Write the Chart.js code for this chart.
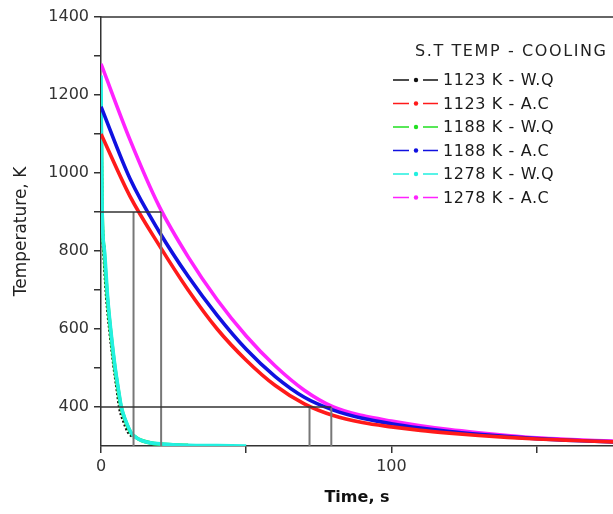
<!DOCTYPE html>
<html>
<head>
<meta charset="utf-8">
<script src="https://cdn.jsdelivr.net/npm/chart.js@4.4.1/dist/chart.umd.min.js"></script>
<style>
  html, body { margin: 0; padding: 0; background: #fff; overflow: hidden; }
</style>
</head>
<body>
<canvas id="myChart" width="613" height="514"></canvas>
<script>
// air cooled curves
const acTime = [0, 10, 20, 30, 40, 50, 60, 70, 80, 90, 100, 110, 120, 130, 140, 150, 160, 170, 180, 190, 200];
const ac1123 = [1100, 940, 815, 700, 600, 520, 455, 408, 378, 360, 349, 340, 333, 327, 322, 318, 315, 312, 310, 308, 307];
const ac1188 = [1170, 985, 850, 735, 635, 548, 478, 425, 392, 371, 357, 346, 337, 330, 324, 319, 315, 312, 310, 308, 307];
const ac1278 = [1280, 1085, 915, 785, 675, 582, 505, 443, 400, 378, 364, 352, 342, 334, 327, 321, 317, 314, 312, 310, 309];

// water quenched curves
const wq1123Time = [0, 0.3, 1, 2, 3.1, 4.5, 5.6, 6.4, 7.8, 9.5, 11.5];
const wq1123 = [1090, 900, 800, 680, 595, 505, 445, 400, 365, 335, 322];
const wq1188Time = [0, 0.4, 1.1, 2.2, 3.3, 4.7, 5.9, 6.9, 8.4, 10.2, 12, 14, 17, 20, 30];
const wq1188 = [1170, 900, 800, 680, 595, 505, 445, 400, 365, 335, 322, 314, 308, 305, 302];
const wq1278Time = [0, 0.4, 1.2, 2.3, 3.4, 4.8, 6, 7, 8.5, 10.3, 12, 14, 17, 21, 30, 40, 50];
const wq1278 = [1250, 900, 800, 680, 595, 505, 445, 400, 365, 335, 322, 314, 308, 305, 302, 301, 300];

// guide lines
const guideLevels = [900, 400];
const guideEnds = [20.7, 79.3];
const guideTimes900 = [11.2, 20.7];
const guideTimes400 = [71.8, 79.3];

const seriesLabels = ['1123 K - W.Q', '1123 K - A.C', '1188 K - W.Q', '1188 K - A.C', '1278 K - W.Q', '1278 K - A.C'];
const seriesColors = ['#111111', '#ff1a1a', '#22e022', '#1010e0', '#22f0e0', '#ff22ff'];
const legendTitle = 'S.T TEMP - COOLING';

const yMin = 300, yMax = 1400, xMin = 0, xMax = 176.3;
const fontFam = '"DejaVu Sans", Arial, sans-serif';

const pts = (xs, ys) => xs.map((x, i) => ({ x: x, y: ys[i] }));

const curve = (label, xs, ys, color, dash) => ({
    label: label,
    data: pts(xs, ys),
    showLine: true,
    borderColor: color,
    backgroundColor: color,
    borderWidth: 3.6,
    borderDash: dash || [],
    pointRadius: 0,
    cubicInterpolationMode: 'monotone',
    order: 2
});

const guide = (xs, ys, color, w) => ({
    label: '',
    data: pts(xs, ys),
    showLine: true,
    borderColor: color,
    borderWidth: w,
    pointRadius: 0,
    tension: 0,
    order: 1
});

const datasets = [
    curve(seriesLabels[1], acTime, ac1123, seriesColors[1]),
    curve(seriesLabels[3], acTime, ac1188, seriesColors[3]),
    curve(seriesLabels[5], acTime, ac1278, seriesColors[5]),
    curve(seriesLabels[4], wq1278Time, wq1278, seriesColors[4]),
    curve(seriesLabels[2], wq1188Time, wq1188, seriesColors[2]),
    curve(seriesLabels[0], wq1123Time, wq1123, seriesColors[0], [2, 2]),
    guide([0, guideEnds[0]], [guideLevels[0], guideLevels[0]], '#333', 1.5),
    guide([0, guideEnds[1]], [guideLevels[1], guideLevels[1]], '#333', 1.5),
    ...guideTimes900.map(t => guide([t, t], [yMin, guideLevels[0]], '#777', 2)),
    ...guideTimes400.map(t => guide([t, t], [yMin, guideLevels[1]], '#777', 2))
];

const frameAndLegend = {
    id: 'frameAndLegend',
    afterDraw(chart) {
        const { ctx, chartArea } = chart;
        ctx.save();
        // top frame line
        ctx.strokeStyle = '#333';
        ctx.lineWidth = 1.5;
        ctx.beginPath();
        ctx.moveTo(chartArea.left, chartArea.top);
        ctx.lineTo(chartArea.right, chartArea.top);
        ctx.stroke();

        // legend
        ctx.fillStyle = '#222';
        ctx.textBaseline = 'middle';
        ctx.font = '16px ' + fontFam;
        ctx.letterSpacing = '1.6px';
        ctx.fillText(legendTitle, 415, 52);
        ctx.letterSpacing = '0.6px';
        seriesLabels.forEach((lab, i) => {
            const y = 80 + i * 23.5;
            ctx.strokeStyle = seriesColors[i];
            ctx.fillStyle = seriesColors[i];
            ctx.lineWidth = 1.6;
            ctx.beginPath();
            ctx.moveTo(393, y); ctx.lineTo(409, y);
            ctx.moveTo(423, y); ctx.lineTo(438, y);
            ctx.stroke();
            ctx.beginPath();
            ctx.arc(416, y, 2.2, 0, Math.PI * 2);
            ctx.fill();
            ctx.fillStyle = '#1a1a1a';
            ctx.fillText(lab, 443, y + 1);
        });
        ctx.restore();
    }
};

const ctx = document.getElementById('myChart');
new Chart(ctx, {
    type: 'scatter',
    data: { datasets: datasets },
    options: {
        responsive: false,
        animation: false,
        layout: { padding: { top: 17, right: 0, bottom: 0, left: 0 } },
        plugins: {
            legend: { display: false },
            tooltip: { enabled: false }
        },
        scales: {
            x: {
                type: 'linear',
                min: xMin,
                max: xMax,
                afterBuildTicks: (s) => { s.ticks = [0, 50, 100, 150].map(v => ({ value: v })); },
                afterFit: (s) => { s.height = 68; },
                ticks: {
                    callback: (v) => (v % 100 === 0 ? v : ''),
                    color: '#333',
                    font: { family: fontFam, size: 16 },
                    padding: 4,
                    maxRotation: 0
                },
                grid: { drawOnChartArea: false, tickLength: 7, color: '#333', lineWidth: 1.5 },
                border: { color: '#333', width: 1.5 },
                title: {
                    display: true,
                    text: 'Time, s',
                    color: '#111',
                    font: { family: fontFam, size: 16, weight: 'bold' },
                    padding: { top: 0, bottom: 7 }
                }
            },
            y: {
                type: 'linear',
                min: yMin,
                max: yMax,
                afterBuildTicks: (s) => {
                    const t = [];
                    for (let v = 400; v <= yMax; v += 100) t.push({ value: v });
                    s.ticks = t;
                },
                afterFit: (s) => { s.width = 101; },
                ticks: {
                    callback: (v) => (v % 200 === 0 ? v : ''),
                    color: '#333',
                    font: { family: fontFam, size: 16 },
                    padding: 5
                },
                grid: { drawOnChartArea: false, tickLength: 7, color: '#333', lineWidth: 1.5 },
                border: { color: '#333', width: 1.5 },
                title: {
                    display: true,
                    text: 'Temperature, K',
                    color: '#222',
                    font: { family: fontFam, size: 17 },
                    padding: { top: 11, bottom: 0 }
                }
            }
        }
    },
    plugins: [frameAndLegend]
});
</script>
</body>
</html>
